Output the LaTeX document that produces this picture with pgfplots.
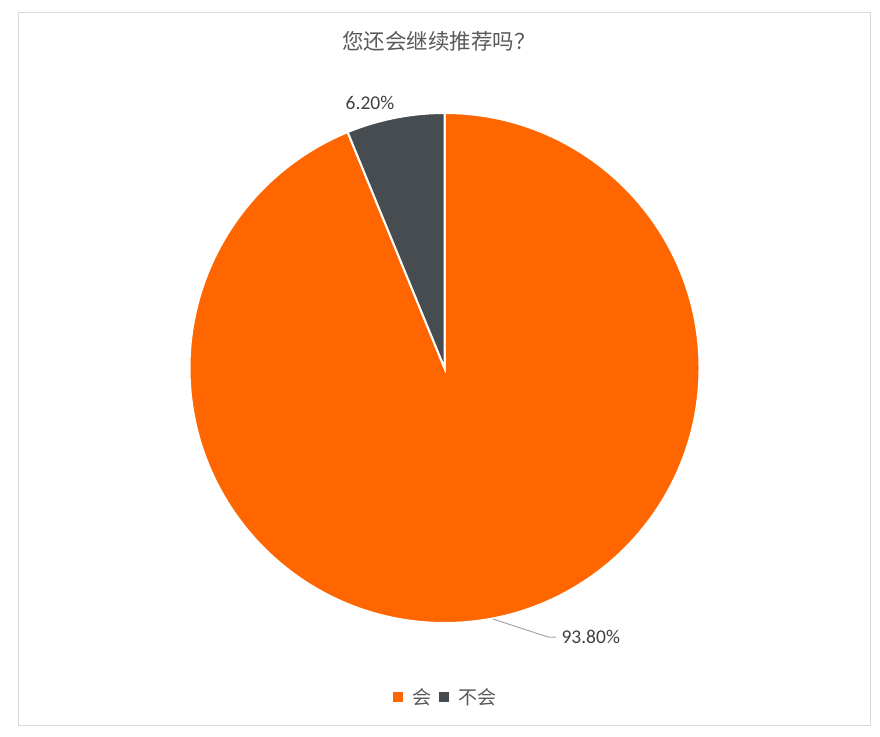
\documentclass[border=0pt]{standalone}
\usepackage{pgfplots}
\usepackage{pgfplotstable}
\pgfplotsset{compat=1.18}
\usepackage{fontspec}
\setmainfont{Carlito}
\newfontfamily\cjk{Noto Sans CJK SC}

\definecolor{cYes}{HTML}{FF6600}
\definecolor{cNo}{HTML}{474C50}
\definecolor{titlegray}{HTML}{595959}
\definecolor{labelgray}{HTML}{404040}
\definecolor{framegray}{HTML}{D9D9D9}
\definecolor{leadergray}{HTML}{A6A6A6}

% share of answers, percent
\pgfplotstableread{
answer value
yes 93.8
no 6.2
}\piedata

\begin{document}
\begin{tikzpicture}
\pgfplotstablegetelem{0}{value}\of\piedata \let\vYes\pgfplotsretval
\pgfplotstablegetelem{1}{value}\of\piedata \let\vNo\pgfplotsretval
% slices run clockwise from 12 o'clock, as in Excel
\pgfmathsetmacro\endYes{90-\vYes*3.6}
\pgfmathsetmacro\endNo{\endYes-\vNo*3.6}
\begin{axis}[
  x=1pt, y=1pt,
  xmin=0, xmax=880, ymin=0, ymax=736,
  anchor=origin, at={(0,0)},
  hide axis, clip=false,
]
  % frame
  \draw[framegray, line width=1pt] (axis cs:18.5,11) rectangle (axis cs:870.5,723);

  % slices
  \fill[cYes, draw=white, line width=2pt] (axis cs:444.5,368) -- ++(90:255pt)
    arc[start angle=90, end angle=\endYes, radius=255pt] -- cycle;
  \fill[cNo, draw=white, line width=2pt] (axis cs:444.5,368) -- ++(\endYes:255pt)
    arc[start angle=\endYes, end angle=\endNo, radius=255pt] -- cycle;

  % title
  \node[titlegray, font=\cjk\fontsize{21.5}{24}\selectfont] at (axis cs:439,695) {您还会继续推荐吗？};

  % data labels
  \node[labelgray, font=\fontsize{19.5}{22}\selectfont] at (axis cs:370,633) {6.20\%};
  \draw[leadergray, line width=1pt] (axis cs:493,117) -- (axis cs:548,99) -- (axis cs:556,99);
  \node[labelgray, font=\fontsize{19.5}{22}\selectfont, anchor=west] at (axis cs:558,99) {93.80\%};

  % legend
  \fill[cYes] (axis cs:393,34) rectangle (axis cs:403,44);
  \node[titlegray, font=\cjk\fontsize{19}{22}\selectfont, anchor=west] at (axis cs:409,39) {会};
  \fill[cNo] (axis cs:439,34) rectangle (axis cs:449,44);
  \node[titlegray, font=\cjk\fontsize{19}{22}\selectfont, anchor=west] at (axis cs:455,39) {不会};
\end{axis}
\pgfresetboundingbox
\path (0,0) rectangle (880pt,736pt);
\end{tikzpicture}
\end{document}
